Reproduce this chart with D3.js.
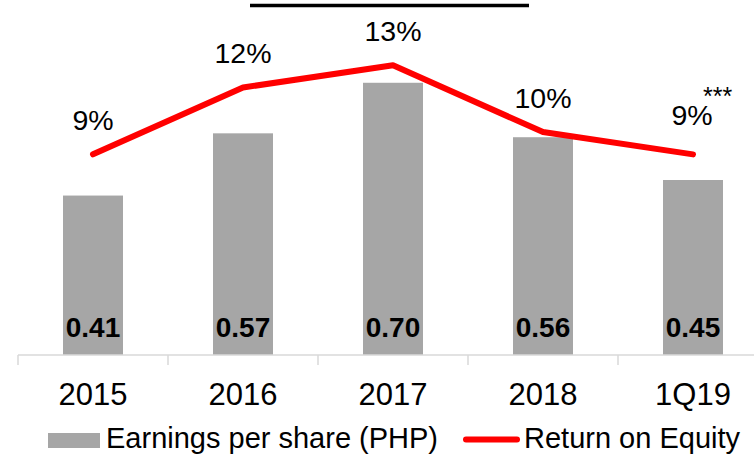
<!DOCTYPE html>
<html>
<head>
<meta charset="utf-8">
<script src="https://cdn.jsdelivr.net/npm/d3@7"></script>
<style>
  body { margin: 0; background: #fff; }
  text { font-family: "Liberation Sans", Arial, sans-serif; }
</style>
</head>
<body>
<div class="chart"></div>
<script>
"use strict"
const periods = ["2015", "2016", "2017", "2018", "1Q19"];
const eps = [0.41, 0.57, 0.70, 0.56, 0.45];
const roe = [0.09, 0.12, 0.13, 0.10, 0.09];
const epsLabels = ["0.41", "0.57", "0.70", "0.56", "0.45"];
const roeLabels = ["9%", "12%", "13%", "10%", "9%"];
const roeNotes = ["", "", "", "", "***"];

let W = 754, H = 454;
let s = d3.select(".chart").append("svg")
  .attr("width", W).attr("height", H);

let x = d3.scaleBand().domain(periods).range([18, 768])
  .paddingInner(0.6).paddingOuter(0.3);
let y = d3.scaleLinear().domain([0, 0.9]).range([355, 5]);
let y2 = d3.scaleLinear().domain([0, 0.157]).range([355, 5]);

// title underline (title itself is cropped off)
s.append("line").attr("x1", 250).attr("x2", 529).attr("y1", 5.5).attr("y2", 5.5)
  .attr("stroke", "#000").attr("stroke-width", 3.5);

// bars
s.selectAll("rect.bar").data(eps).enter().append("rect")
  .attr("class", "bar")
  .attr("x", (d, i) => x(periods[i]))
  .attr("y", d => y(d))
  .attr("width", x.bandwidth())
  .attr("height", d => y(0) - y(d))
  .attr("fill", "#a6a6a6");

// axis
let g = s.append("g");
g.append("line").attr("x1", 18).attr("x2", W).attr("y1", y(0)).attr("y2", y(0))
  .attr("stroke", "#d9d9d9").attr("stroke-width", 1.5);
g.selectAll("line.tick").data(periods).enter().append("line")
  .attr("x1", d => x(d) - x.step() * 0.3).attr("x2", d => x(d) - x.step() * 0.3)
  .attr("y1", y(0)).attr("y2", y(0) + 10)
  .attr("stroke", "#d9d9d9").attr("stroke-width", 1.5);
g.selectAll("text.xl").data(periods).enter().append("text")
  .attr("x", d => x(d) + x.bandwidth() / 2)
  .attr("y", 405)
  .attr("text-anchor", "middle")
  .attr("font-size", 31)
  .text(d => d);

// bar labels
s.selectAll("text.bl").data(epsLabels).enter().append("text")
  .attr("x", (d, i) => x(periods[i]) + x.bandwidth() / 2)
  .attr("y", 337)
  .attr("text-anchor", "middle")
  .attr("font-size", 28)
  .attr("font-weight", "bold")
  .text(d => d);

// ROE line
let line = d3.line()
  .x((d, i) => x(periods[i]) + x.bandwidth() / 2)
  .y(d => y2(d));
s.append("path").datum(roe)
  .attr("d", line)
  .attr("fill", "none")
  .attr("stroke", "#ff0000")
  .attr("stroke-width", 6)
  .attr("stroke-linecap", "round")
  .attr("stroke-linejoin", "round");

s.selectAll("text.rl").data(roeLabels).enter().append("text")
  .attr("x", (d, i) => x(periods[i]) + x.bandwidth() / 2 + (roeNotes[i] ? -1 : 0))
  .attr("y", (d, i) => y2(roe[i]) - (roeNotes[i] ? 29 : 24))
  .attr("text-anchor", "middle")
  .attr("font-size", 28.5)
  .text(d => d);
s.selectAll("text.note").data(roeNotes).enter().append("text")
  .attr("x", (d, i) => x(periods[i]) + x.bandwidth() / 2 + 10)
  .attr("y", (d, i) => y2(roe[i]) - 49)
  .attr("font-size", 25)
  .text(d => d);

// legend
let lg = s.append("g");
lg.append("rect").attr("x", 48).attr("y", 433).attr("width", 52).attr("height", 15)
  .attr("fill", "#a6a6a6");
lg.append("text").attr("x", 106).attr("y", 448).attr("font-size", 29)
  .text("Earnings per share (PHP)");
lg.append("line").attr("x1", 466).attr("x2", 517).attr("y1", 439.5).attr("y2", 439.5)
  .attr("stroke", "#ff0000").attr("stroke-width", 6).attr("stroke-linecap", "round");
lg.append("text").attr("x", 524).attr("y", 448).attr("font-size", 29)
  .text("Return on Equity");
</script>
</body>
</html>
